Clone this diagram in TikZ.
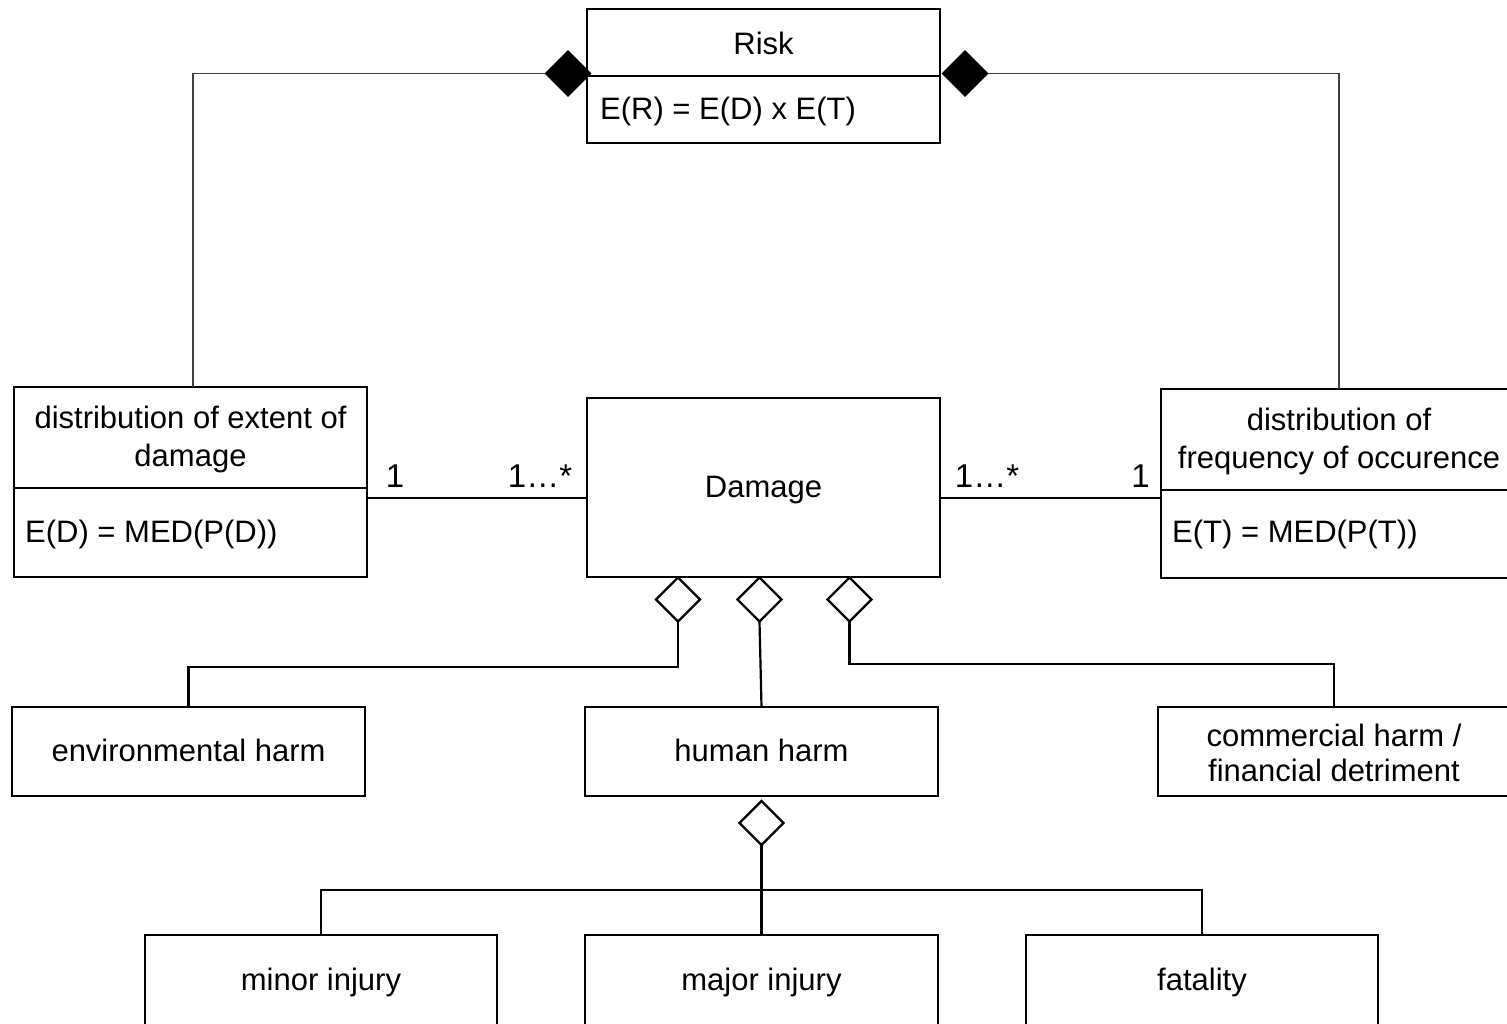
\documentclass[tikz,border=0pt]{standalone}
\usepackage{fontspec}
\setmainfont{Liberation Sans}
\usetikzlibrary{shapes.geometric}
\begin{document}
\begin{tikzpicture}[x=1pt,y=-1pt,
  box/.style={draw, rectangle, line width=2.2pt, anchor=north west, inner sep=0pt, outer sep=0pt},
  lbl/.style={font=\fontsize{31}{38}\selectfont, inner sep=0pt, anchor=base},
  mult/.style={font=\fontsize{33}{38}\selectfont, inner sep=0pt, anchor=base},
  fdia/.style={diamond, fill=black, draw=black, line width=0.5pt, inner sep=0pt, outer sep=0pt, minimum width=46pt, minimum height=46pt},
  hdia/.style={diamond, fill=white, draw=black, line width=2.2pt, inner sep=0pt, outer sep=0pt, minimum width=44pt, minimum height=44pt},
  conn/.style={line width=2.2pt},
  thinconn/.style={line width=1.1pt, black!75}]
\useasboundingbox (0,0) rectangle (1507,1023);
\clip (0,0) rectangle (1507,1023);
\fill[white] (0,0) rectangle (1507,1023);

% Risk
\node[box, minimum width=353pt, minimum height=134pt] (risk) at (587,9) {};
\draw[conn] (587,76) -- (940,76);
\node[lbl] (risktitle) at (763.5,54) {Risk};
\node[lbl, anchor=base west] (riskattr) at (600,119.5) {E(R) = E(D) x E(T)};

% distribution of extent of damage
\node[box, minimum width=353pt, minimum height=190pt] (ldist) at (14,387) {};
\draw[conn] (14,488) -- (367,488);
\node[lbl, align=center] (ldisttitle) at (190.5,466) {distribution of extent of\\damage};
\node[lbl, anchor=base west] (ldistattr) at (25,542) {E(D) = MED(P(D))};

% Damage
\node[box, minimum width=353pt, minimum height=179pt] (damage) at (587,398) {};
\node[lbl] (damagetitle) at (763.5,497) {Damage};

% distribution of frequency of occurence
\node[box, minimum width=356pt, minimum height=189pt] (rdist) at (1161,389) {};
\draw[conn] (1161,490) -- (1517,490);
\node[lbl, align=center] (rdisttitle) at (1339,468) {distribution of\\frequency of occurence};
\node[lbl, anchor=base west] (rdistattr) at (1172,542) {E(T) = MED(P(T))};

% associations
\coordinate (assoc) at (0,498);
\draw[conn] (ldist.east |- assoc) -- (damage.west |- assoc);
\draw[conn] (damage.east |- assoc) -- (rdist.west |- assoc);
\node[mult] (m1) at (395,487.5) {1};
\node[mult] (m2) at (540,487.5) {1…*};
\node[mult] (m3) at (987,487.5) {1…*};
\node[mult] (m4) at (1140.5,487.5) {1};

% compositions to Risk
\node[fdia] (fd1) at (568,73.5) {};
\node[fdia] (fd2) at (965,73.5) {};
\draw[thinconn] (fd1.west) -| ([xshift=2.5pt]ldist.north);
\draw[thinconn] (fd2.east) -| (rdist.north);

% harm boxes
\node[box, minimum width=353pt, minimum height=89pt] (env) at (12,707) {};
\node[lbl] (envtitle) at (188.5,761) {environmental harm};
\node[box, minimum width=353pt, minimum height=89pt] (human) at (585,707) {};
\node[lbl] (humantitle) at (761.5,761) {human harm};
\node[box, minimum width=352pt, minimum height=89pt] (comm) at (1158,707) {};
\node[lbl, align=center, font=\fontsize{31}{35}\selectfont] (commtitle) at (1334,781) {commercial harm /\\financial detriment};

% aggregations to Damage
\node[hdia] (hd1) at (678,599.5) {};
\node[hdia] (hd2) at (759.5,599.5) {};
\node[hdia] (hd3) at (849.5,599.5) {};
\coordinate (envrow) at (0,667);
\coordinate (comrow) at (0,664);
\draw[conn] (hd1.south) |- (env.north |- envrow) -- (env.north);
\draw[conn] (hd2.south) -- (human.north);
\draw[conn] (hd3.south) |- (comm.north |- comrow) -- (comm.north);

% injury boxes
\node[box, minimum width=352pt, minimum height=130pt] (minor) at (145,935) {};
\node[lbl] (minortitle) at (321,990) {minor injury};
\node[box, minimum width=353pt, minimum height=130pt] (major) at (585,935) {};
\node[lbl] (majortitle) at (761.5,990) {major injury};
\node[box, minimum width=352pt, minimum height=130pt] (fatal) at (1026,935) {};
\node[lbl] (fataltitle) at (1202,990) {fatality};

\node[hdia] (hd4) at (761.5,823) {};
\coordinate (injrow) at (0,890);
\draw[conn] (hd4.south) -- (major.north);
\draw[conn] (minor.north) |- (hd4.south |- injrow) -| (fatal.north);
\end{tikzpicture}
\end{document}
